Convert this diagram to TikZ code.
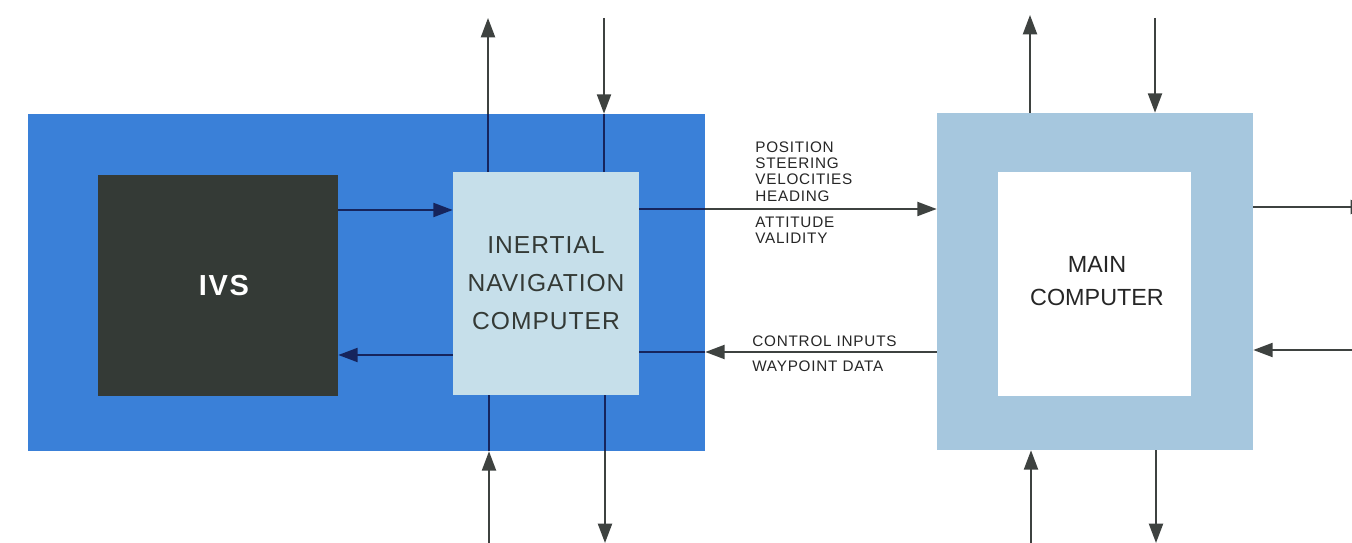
\documentclass[tikz,border=0pt]{standalone}
\usepackage{fontspec}
\setmainfont{Liberation Sans}
\usetikzlibrary{arrows.meta}
\definecolor{bgblue}{RGB}{58,128,216}
\definecolor{ivsgray}{RGB}{52,58,54}
\definecolor{incfill}{RGB}{198,223,234}
\definecolor{mainfill}{RGB}{166,199,222}
\definecolor{navy}{RGB}{22,36,92}
\definecolor{arrgray}{RGB}{62,66,64}
\newfontfamily\lblfont[LetterSpace=5]{Liberation Sans}
\newfontfamily\incfont[LetterSpace=4]{Liberation Sans}
\newfontfamily\ivsfont[LetterSpace=6]{Liberation Sans}
\tikzset{
  box/.style={rectangle, inner sep=0pt, draw=none, anchor=center},
  garr/.style={draw=arrgray, line width=1.1pt, -{Triangle[length=11pt,width=8pt]}},
  gline/.style={draw=arrgray, line width=1.1pt},
  narr/.style={draw=navy, line width=1.1pt, -{Triangle[length=11pt,width=8pt]}},
  nline/.style={draw=navy, line width=1.1pt},
  lbl/.style={anchor=west, inner sep=0pt, align=left, font=\lblfont\fontsize{8.7}{9.3}\selectfont, text=black!85},
}
\begin{document}
\begin{tikzpicture}[x=0.02cm,y=-0.02cm]
\useasboundingbox (0,0) rectangle (1352,543);
\clip (0,0) rectangle (1352,543);
% blocks
\node[box, fill=bgblue, minimum width=13.54cm, minimum height=6.74cm] (blue) at (366.5,282.5) {};
\node[box, fill=ivsgray, minimum width=4.8cm, minimum height=4.42cm] (ivs) at (218,285.5) {};
\node[text=white, font=\ivsfont\bfseries\fontsize{16.5}{20}\selectfont] (ivstext) at (224,286) {IVS};
\node[box, fill=incfill, minimum width=3.72cm, minimum height=4.46cm] (inc) at (546,283.5) {};
\node[align=center, text=ivsgray, font=\incfont\fontsize{14}{21.6}\selectfont] (inctext) at (546,283) {INERTIAL\\NAVIGATION\\COMPUTER};
\node[box, fill=mainfill, minimum width=6.32cm, minimum height=6.74cm] (main) at (1095,281.5) {};
\node[box, fill=white, minimum width=3.86cm, minimum height=4.48cm] (mainin) at (1094.5,284) {};
\node[align=center, text=black!85, font=\fontsize{13.3}{18.8}\selectfont] (maintext) at (1097,281.5) {MAIN\\COMPUTER};
% free ends
\coordinate (t1) at (488,18);
\coordinate (t2) at (604,18);
\coordinate (b1) at (489,543);
\coordinate (b2) at (605,543);
\coordinate (mt1) at (1030,15);
\coordinate (mt2) at (1155,18);
\coordinate (mb1) at (1031,543);
\coordinate (mb2) at (1156,543);
\coordinate (r1) at (1370,207);
\coordinate (r2) at (1352,350);
\coordinate (y1) at (0,210);
\coordinate (y2) at (0,355);
\coordinate (y3) at (0,209);
\coordinate (y4) at (0,352);
% INC vertical connectors
\draw[nline] (inc.north -| t1) -- (blue.north -| t1);
\draw[garr] (blue.north -| t1) -- (t1);
\draw[garr] (t2) -- (blue.north -| t2);
\draw[nline] (blue.north -| t2) -- (inc.north -| t2);
\draw[garr] (b1) -- (blue.south -| b1);
\draw[nline] (blue.south -| b1) -- (inc.south -| b1);
\draw[nline] (inc.south -| b2) -- (blue.south -| b2);
\draw[garr] (blue.south -| b2) -- (b2);
% IVS <-> INC
\draw[narr] (ivs.east |- y1) -- (inc.west |- y1);
\draw[narr] (inc.west |- y2) -- (ivs.east |- y2);
% INC <-> MAIN
\draw[nline] (inc.east |- y3) -- (blue.east |- y3);
\draw[garr] (blue.east |- y3) -- (main.west |- y3);
\draw[garr] (main.west |- y4) -- (blue.east |- y4);
\draw[nline] (blue.east |- y4) -- (inc.east |- y4);
% MAIN connectors
\draw[garr] (main.north -| mt1) -- (mt1);
\draw[garr] (mt2) -- (main.north -| mt2);
\draw[garr] (mb1) -- (main.south -| mb1);
\draw[garr] (main.south -| mb2) -- (mb2);
\draw[garr] (main.east |- r1) -- (r1);
\draw[garr] (r2) -- (main.east |- r2);
% labels
\node[lbl, anchor=north west] (l1) at (755,141) {POSITION\\STEERING\\VELOCITIES\\HEADING};
\node[lbl, anchor=north west] (l2) at (755,216.5) {ATTITUDE\\VALIDITY};
\node[lbl] (l3) at (752,341) {CONTROL INPUTS};
\node[lbl] (l4) at (752,366) {WAYPOINT DATA};
\end{tikzpicture}
\end{document}
